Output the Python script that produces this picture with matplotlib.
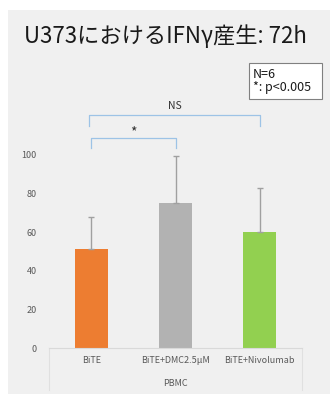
import numpy as np
import matplotlib
matplotlib.use("Agg")
import matplotlib.pyplot as plt
from matplotlib.patches import Rectangle

plt.rcParams['font.family'] = ['Noto Sans CJK JP', 'DejaVu Sans']

# datos
categorias = ['BiTE', 'BiTE+DMC2.5μM', 'BiTE+Nivolumab']
medias = [51.5, 75, 60]
desv = [16.5, 24.5, 23]
colores = ['#ed7d31', '#b2b2b2', '#92d050']
grupo = 'PBMC'
titulo = 'U373におけるIFNγ産生: 72h'
nota = 'N=6\n*: p<0.005'

W, H = 330, 394
fig = plt.figure(figsize=(W / 100, H / 100), dpi=100, facecolor='white')
# fondo gris del panel
fig.patches.append(Rectangle((8 / W, 0), 1, 1 - 10 / H, transform=fig.transFigure,
                             facecolor='#f0f0f0', edgecolor='none', zorder=-10))

ax = fig.add_axes([49 / W, 46 / H, 253 / W, 289.5 / H])
ax.set_facecolor('none')
x = np.arange(len(categorias))
ax.bar(x, medias, width=0.39, color=colores, zorder=2)
ax.errorbar(x, medias, yerr=[np.zeros(3), desv], fmt='none', ecolor='#a0a0a0',
            elinewidth=1, capsize=2, capthick=1, zorder=3)

ax.set_xlim(-0.5, 2.5)
ax.set_ylim(0, 150)
ax.set_yticks(np.arange(0, 101, 20))
ax.tick_params(axis='y', length=0, pad=9, labelsize=6.5, labelcolor='#595959')
ax.set_xticks(x)
ax.set_xticklabels(categorias)
ax.tick_params(axis='x', length=0, pad=6, labelsize=6.5, labelcolor='#595959')
for s in ['top', 'right', 'left']:
    ax.spines[s].set_visible(False)
ax.spines['bottom'].set_color('#d9d9d9')
ax.spines['bottom'].set_linewidth(0.8)

# lineas de la tabla de categorias
for xv in [-0.5, 2.5]:
    ax.plot([xv, xv], [0, -22], color='#e0e0e0', lw=0.8, clip_on=False)
ax.text(1, -18.5, grupo, ha='center', va='center', fontsize=6.5, color='#595959')

# corchetes de significancia
c_br = '#9dc3e6'
ax.plot([0, 0, 1, 1], [103.6, 108.8, 108.8, 103.6], color=c_br, lw=0.9)
ax.text(0.5, 111.5, '*', ha='center', va='center', fontsize=10, color='#333333')
ax.plot([-0.03, -0.03, 2.0, 2.0], [115, 120.7, 120.7, 115], color=c_br, lw=0.9)
ax.text(0.99, 125.4, 'NS', ha='center', va='center', fontsize=7.5, color='#333333')

fig.text(0.5, 1 - 36 / H, titulo, ha='center', va='center', fontsize=16, color='#1a1a1a')

# recuadro de nota
fig.patches.append(Rectangle((249 / W, 1 - 99 / H), 73 / W, 36 / H, transform=fig.transFigure,
                             facecolor='white', edgecolor='#808080', lw=0.8, zorder=5))
fig.text(253 / W, 1 - 81 / H, nota, ha='left', va='center', fontsize=9,
         color='#1a1a1a', linespacing=1.05, zorder=6)

fig.savefig('out.png', dpi=100, facecolor=fig.get_facecolor())
